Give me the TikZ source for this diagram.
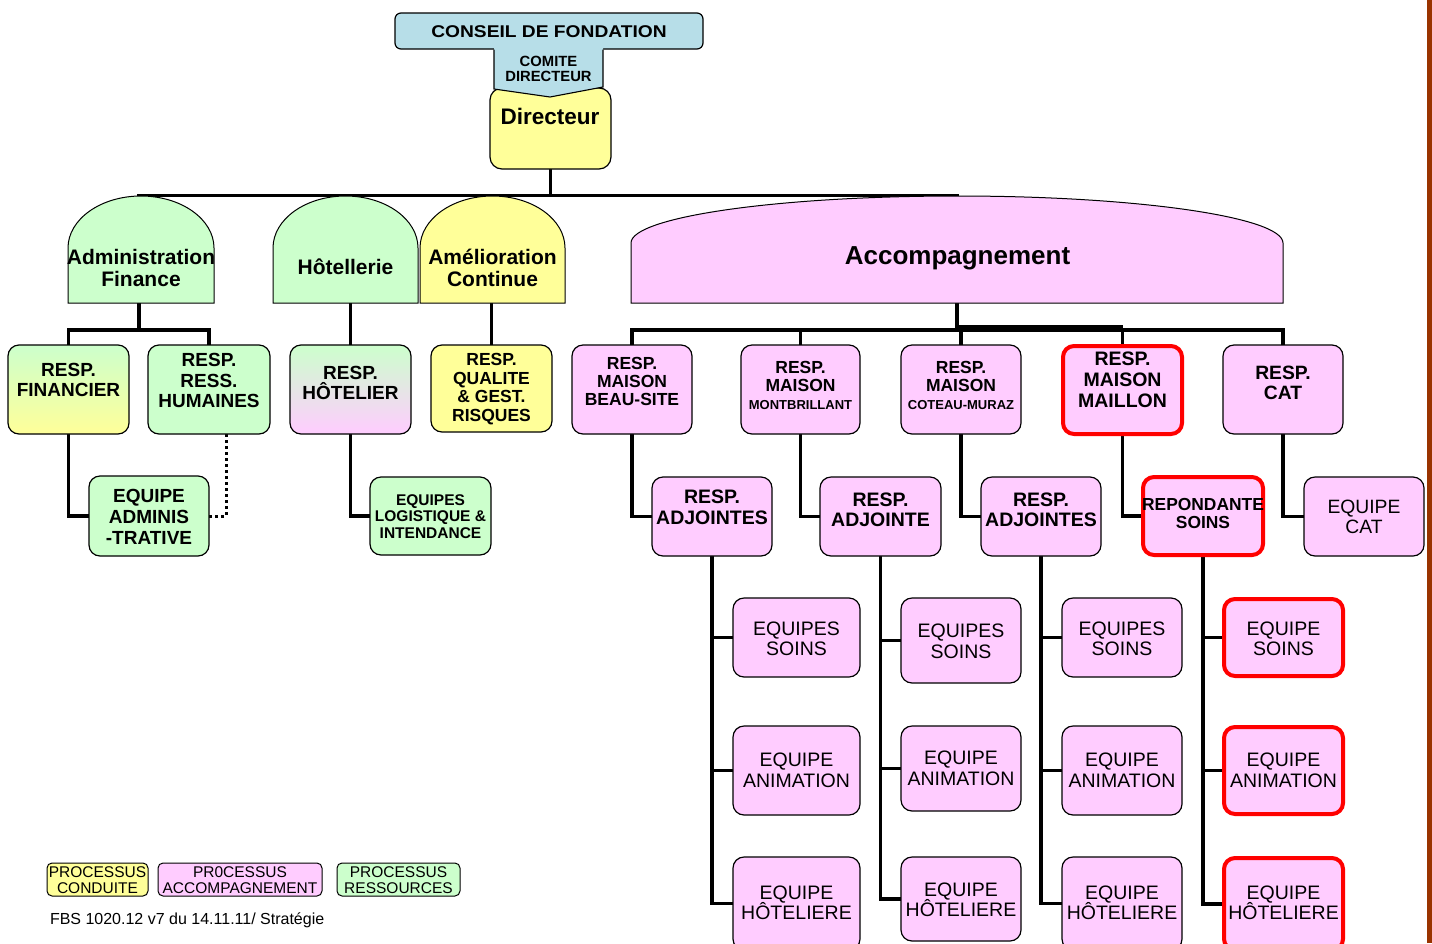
\documentclass[tikz,border=0pt]{standalone}
\usepackage{fontspec}
\usepackage{graphicx}
\setmainfont{Liberation Sans}
\definecolor{ccyan}{HTML}{B7DEE8}
\definecolor{cyel}{HTML}{FFFF99}
\definecolor{cgrn}{HTML}{CCFFCC}
\definecolor{cpnk}{HTML}{FFCCFF}
\definecolor{cbrown}{HTML}{993300}
\pgfdeclarelayer{bg}
\pgfsetlayers{bg,main}
\newcommand{\fs}[2]{\fontsize{#1}{#2}\selectfont\lineskiplimit=-100pt\relax}
\newcommand{\mkbox}[6]{\node[#2, minimum width={#5-#3}, minimum height={#6-#4}] (#1) at ({(#3+#5)/2},{(#4+#6)/2}) {};}
\tikzset{
  bx/.style={draw=black, line width=1.2pt, rounded corners=11pt, inner sep=0pt, outer sep=0pt},
  rbx/.style={draw=red, line width=4pt, rounded corners=11pt, inner sep=0pt, outer sep=0pt, fill=cpnk},
  pbx/.style={bx, fill=cpnk},
  gbx/.style={bx, fill=cgrn},
  ybx/.style={bx, fill=cyel},
  lgd/.style={draw=black, line width=1pt, rounded corners=5pt, inner sep=0pt, outer sep=0pt},
  lbl/.style={align=center, inner sep=0pt, outer sep=0pt},
  conn/.style={line width=3.6pt, draw=black},
  dotconn/.style={line width=3pt, draw=black, dash pattern=on 3pt off 3pt},
  dome/.style={draw=black, line width=1pt},
  bigb/.style={lbl, font=\fs{19}{20.5}\bfseries},
  midb/.style={lbl, font=\fs{17.5}{18.5}\bfseries},
  reg/.style={lbl, font=\fs{19.5}{20.5}},
  lgt/.style={lbl, font=\fs{15.5}{16}},
}
\begin{document}
\begin{tikzpicture}[x=1pt,y=-1pt]
\useasboundingbox (0,0) rectangle (1432,943);
\clip (0,0) rectangle (1432,943);

% right brown rule
\fill[cbrown] (1427,0) rectangle (1432,943);

% ---------- top ----------
\mkbox{conseil}{bx, fill=ccyan, rounded corners=6pt}{395}{13}{703}{49}
\mkbox{dir}{ybx, rounded corners=12pt}{490}{88}{611}{169}
\fill[ccyan] (494,48.2) -- (494,89) -- (550,97) -- (603,87) -- (603,48.2) -- cycle;
\draw[line width=1.1pt] (494,49.5) -- (494,89) -- (550,97) -- (603,87) -- (603,49.5);
\node[lbl, font=\fs{17}{18}\bfseries] (tcons) at (549,31.5) {\scalebox{1.13}[1]{CONSEIL DE FONDATION}};
\node[lbl, font=\fs{14.8}{14.5}\bfseries] (tcomite) at (548.5,69) {COMITE\\DIRECTEUR};
\node[lbl, font=\fs{22.5}{24}\bfseries] (tdir) at (550,116) {Directeur};

\coordinate (barL) at (137,195.5);
\coordinate (barR) at (959,195.5);

% ---------- domes ----------
\draw[dome, fill=cgrn] (68,303) -- (68,248) arc[start angle=180, end angle=0, x radius=73pt, y radius=52pt] -- (214,303) -- cycle;
\draw[dome, fill=cgrn] (273,303) -- (273,248) arc[start angle=180, end angle=0, x radius=72.5pt, y radius=52pt] -- (418,303) -- cycle;
\draw[dome, fill=cyel] (420,303) -- (420,248) arc[start angle=180, end angle=0, x radius=72.5pt, y radius=52pt] -- (565,303) -- cycle;
\draw[dome, fill=cpnk] (631,303) -- (631,243) arc[start angle=180, end angle=0, x radius=326pt, y radius=47pt] -- (1283,303) -- cycle;
\node[lbl, font=\fs{21}{22}\bfseries] (tadm) at (141,268) {Administration\\Finance};
\node[lbl, font=\fs{21}{22}\bfseries] (thot) at (345.5,267) {Hôtellerie};
\node[lbl, font=\fs{21}{22}\bfseries] (tamel) at (492.5,268) {Amélioration\\Continue};
\node[lbl, font=\fs{26}{27}\bfseries, anchor=base] (tacc) at (957.5,264) {Accompagnement};
\coordinate (admB) at (139,303);
\coordinate (hotB) at (350.5,303);
\coordinate (amelB) at (491.5,303);
\coordinate (accB) at (957,303);
\coordinate (tk) at (0,327);

% ---------- left boxes ----------
\mkbox{fin}{bx, top color=cgrn, bottom color=cyel}{8}{345}{129}{434}
\mkbox{rh}{gbx}{148}{345}{270}{434}
\mkbox{eqadm}{gbx}{89}{476}{209}{556}
\mkbox{hot}{bx, top color=cgrn, bottom color=cpnk}{290}{345}{411}{434}
\mkbox{logi}{gbx}{370}{477}{491}{555}
\mkbox{qual}{ybx}{431}{345}{552}{432}
\node[bigb] (tfin) at (68.5,380) {RESP.\\FINANCIER};
\node[bigb] (trh) at (209,380.5) {RESP.\\RESS.\\HUMAINES};
\node[bigb, font=\fs{19}{21}\bfseries] (teqadm) at (149,517) {EQUIPE\\ADMINIS\\-TRATIVE};
\node[bigb] (thotr) at (350.5,383) {RESP.\\HÔTELIER};
\node[lbl, font=\fs{15.5}{16.5}\bfseries] (tlogi) at (430.5,516.5) {EQUIPES\\LOGISTIQUE \&\\INTENDANCE};
\node[midb, font=\fs{17.5}{18.7}\bfseries] (tqual) at (491.5,389) {RESP.\\QUALITE\\\& GEST.\\RISQUES};

% ---------- accompagnement row 1 ----------
\mkbox{bs}{pbx}{572}{345}{692}{434}
\mkbox{mb}{pbx}{741}{345}{860}{434}
\mkbox{ct}{pbx}{901}{345}{1021}{434}
\mkbox{mail}{rbx}{1063}{346}{1182}{434}
\mkbox{cat}{pbx}{1223}{345}{1343}{434}
\node[midb, font=\fs{17.5}{18}\bfseries] (tbs) at (632,381) {RESP.\\MAISON\\BEAU-SITE};
\node[midb, font=\fs{17.5}{18}\bfseries] (tmb) at (800.5,385) {RESP.\\MAISON\\{\fs{13}{18}\bfseries MONTBRILLANT}};
\node[midb, font=\fs{17.5}{18}\bfseries] (tct) at (961,385) {RESP.\\MAISON\\{\fs{13}{18}\bfseries COTEAU-MURAZ}};
\node[lbl, font=\fs{19.5}{21}\bfseries] (tmail) at (1122.5,380) {RESP.\\MAISON\\MAILLON};
\node[bigb, font=\fs{19.3}{20}\bfseries] (tcat) at (1283,383) {RESP.\\CAT};

% ---------- accompagnement row 2 ----------
\mkbox{adj1}{pbx}{652}{477}{772}{556}
\mkbox{adj2}{pbx}{820}{477}{941}{556}
\mkbox{adj3}{pbx}{981}{477}{1101}{556}
\mkbox{rep}{rbx}{1143}{477}{1263}{555}
\mkbox{eqcat}{pbx}{1304}{477}{1424}{556}
\node[lbl, font=\fs{19.5}{21}\bfseries] (tadj1) at (712,507.5) {RESP.\\ADJOINTES};
\node[lbl, font=\fs{19.5}{20}\bfseries] (tadj2) at (880.5,510) {RESP.\\ADJOINTE};
\node[lbl, font=\fs{19.5}{20}\bfseries] (tadj3) at (1041,510) {RESP.\\ADJOINTES};
\node[lbl, font=\fs{17.4}{18}\bfseries] (trep) at (1203,514) {REPONDANTE\\SOINS};
\node[reg, font=\fs{19.3}{20}] (teqcat) at (1364,517) {EQUIPE\\CAT};

% ---------- teams ----------
\mkbox{s1}{pbx}{733}{598}{860}{677}
\mkbox{a1}{pbx}{733}{726}{860}{815}
\mkbox{h1}{pbx}{733}{857}{860}{950}
\mkbox{s2}{pbx}{901}{598}{1021}{683}
\mkbox{a2}{pbx}{901}{726}{1021}{811}
\mkbox{h2}{pbx}{901}{857}{1021}{941}
\mkbox{s3}{pbx}{1062}{598}{1182}{677}
\mkbox{a3}{pbx}{1062}{726}{1182}{815}
\mkbox{h3}{pbx}{1062}{857}{1182}{950}
\mkbox{s4}{rbx}{1224}{599}{1343}{676}
\mkbox{a4}{rbx}{1224}{727}{1343}{814}
\mkbox{h4}{rbx}{1224}{858}{1343}{950}
\node[reg] (ts1) at (796.5,639) {EQUIPES\\SOINS};
\node[reg] (ta1) at (796.5,770.5) {EQUIPE\\ANIMATION};
\node[reg] (th1) at (796.5,903) {EQUIPE\\HÔTELIERE};
\node[reg] (ts2) at (961,641.5) {EQUIPES\\SOINS};
\node[reg] (ta2) at (961,768.5) {EQUIPE\\ANIMATION};
\node[reg] (th2) at (961,900) {EQUIPE\\HÔTELIERE};
\node[reg] (ts3) at (1122,639) {EQUIPES\\SOINS};
\node[reg] (ta3) at (1122,770.5) {EQUIPE\\ANIMATION};
\node[reg] (th3) at (1122,903) {EQUIPE\\HÔTELIERE};
\node[reg] (ts4) at (1283.5,639) {EQUIPE\\SOINS};
\node[reg] (ta4) at (1283.5,770.5) {EQUIPE\\ANIMATION};
\node[reg] (th4) at (1283.5,903) {EQUIPE\\HÔTELIERE};

% ---------- legend ----------
\mkbox{lg1}{lgd, fill=cyel}{47}{863}{148}{896}
\mkbox{lg2}{lgd, fill=cpnk}{158}{863}{322}{896}
\mkbox{lg3}{lgd, fill=cgrn}{337}{863}{460}{896}
\node[lgt] (tlg1) at (97.5,880) {PROCESSUS\\CONDUITE};
\node[lgt] (tlg2) at (240,880) {PR0CESSUS\\ACCOMPAGNEMENT};
\node[lgt] (tlg3) at (398.5,880) {PROCESSUS\\RESSOURCES};
\node[lbl, font=\fs{16}{16}, anchor=base west] (tfoot) at (50,924) {FBS 1020.12 v7 du 14.11.11/ Stratégie};

% ---------- connectors ----------
\begin{pgfonlayer}{bg}
\draw[conn] (dir.south) -- (dir.south |- barL);
\draw[conn] (barL) -- (barR);
\draw[conn] (admB) -- ++(0,27);
\draw[conn] (fin.north) -- ++(0,-15) -| (rh.north);
\draw[conn] (fin.south) |- (eqadm.west);
\draw[dotconn] ([xshift=17pt]rh.south) |- (eqadm.east);
\draw[conn] (hotB) -- (hot.north);
\draw[conn] (hot.south) |- (logi.west);
\draw[conn] (amelB) -- (qual.north);
\draw[conn] (accB) -- ++(0,27);
\draw[conn] (bs.north) -- ++(0,-15) -| (cat.north);
\draw[conn] (accB |- tk) -- (mail.north |- tk);
\draw[conn] (mb.north) -- ++(0,-15);
\draw[conn] (ct.north) -- ++(0,-15);
\draw[conn] (mail.north) -- ++(0,-16);
\draw[conn] (bs.south) |- (adj1.west);
\draw[conn] (mb.south) |- (adj2.west);
\draw[conn] (ct.south) |- (adj3.west);
\draw[conn] (mail.south) |- (rep.west);
\draw[conn] (cat.south) |- (eqcat.west);
\draw[conn] (adj1.south) |- (s1.west);
\draw[conn] (adj1.south) |- (a1.west);
\draw[conn] (adj1.south) |- (h1.west);
\draw[conn] (adj2.south) |- (s2.west);
\draw[conn] (adj2.south) |- (a2.west);
\draw[conn] (adj2.south) |- (h2.west);
\draw[conn] (adj3.south) |- (s3.west);
\draw[conn] (adj3.south) |- (a3.west);
\draw[conn] (adj3.south) |- (h3.west);
\draw[conn] (rep.south) |- (s4.west);
\draw[conn] (rep.south) |- (a4.west);
\draw[conn] (rep.south) |- (h4.west);
\end{pgfonlayer}
\end{tikzpicture}
\end{document}
